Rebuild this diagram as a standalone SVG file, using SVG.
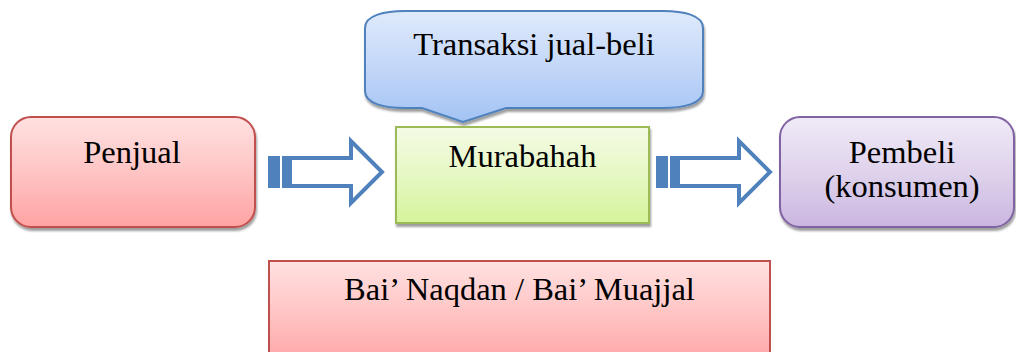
<svg xmlns="http://www.w3.org/2000/svg" width="1016" height="352" viewBox="0 0 1016 352">
  <defs>
    <linearGradient id="gRed" x1="0" y1="0" x2="0" y2="1">
      <stop offset="0" stop-color="#ffe1e1"/>
      <stop offset="0.5" stop-color="#ffc4c4"/>
      <stop offset="1" stop-color="#ffa3a3"/>
    </linearGradient>
    <linearGradient id="gGreen" x1="0" y1="0" x2="0" y2="1">
      <stop offset="0" stop-color="#f4fbe6"/>
      <stop offset="0.5" stop-color="#e6f8c4"/>
      <stop offset="1" stop-color="#d5f49a"/>
    </linearGradient>
    <linearGradient id="gPurple" x1="0" y1="0" x2="0" y2="1">
      <stop offset="0" stop-color="#f0eaf7"/>
      <stop offset="0.5" stop-color="#dfd3ec"/>
      <stop offset="1" stop-color="#cab6e0"/>
    </linearGradient>
    <linearGradient id="gBlue" x1="0" y1="0" x2="0" y2="1">
      <stop offset="0" stop-color="#dfeafb"/>
      <stop offset="0.5" stop-color="#c3d7f8"/>
      <stop offset="1" stop-color="#a3c3f4"/>
    </linearGradient>
    <filter id="shadow" x="-10%" y="-10%" width="120%" height="130%">
      <feDropShadow dx="1" dy="3" stdDeviation="1" flood-color="#000" flood-opacity="0.38"/>
    </filter>
    <style>
      .lbl { font-family: "Liberation Serif", "Times New Roman", serif; font-size: 32.5px; fill: #000; text-anchor: middle; }
      .arrow { fill: #ffffff; stroke: #4f81bd; stroke-width: 4; stroke-linejoin: miter; }
      .stripe { fill: #4f81bd; }
    </style>
  </defs>

  <g id="node-penjual">
    <rect x="11" y="117" width="244" height="110" rx="20" ry="20" fill="url(#gRed)" stroke="#c0504d" stroke-width="2" filter="url(#shadow)"/>
    <text class="lbl" x="132" y="163">Penjual</text>
  </g>

  <g id="node-transaksi">
    <path d="M365,28 C365,15 385,11 405,11 L663,11 C683,11 703,15 703,28 L703,91 C703,104 683,108 663,108 L506,108 L463,122 L422,108 L405,108 C385,108 365,104 365,91 Z" fill="url(#gBlue)" stroke="#4f81bd" stroke-width="2" filter="url(#shadow)"/>
    <text class="lbl" x="534" y="55">Transaksi jual-beli</text>
  </g>

  <g id="node-murabahah">
    <rect x="396" y="127" width="253" height="96" fill="url(#gGreen)" stroke="#9bbb59" stroke-width="2" filter="url(#shadow)"/>
    <text class="lbl" x="522.5" y="167">Murabahah</text>
  </g>

  <g id="node-pembeli">
    <rect x="780" y="117" width="234" height="110" rx="20" ry="20" fill="url(#gPurple)" stroke="#8064a2" stroke-width="2" filter="url(#shadow)"/>
    <text class="lbl" x="902" y="163">Pembeli</text>
    <text class="lbl" x="902" y="197">(konsumen)</text>
  </g>

  <g id="node-bai">
    <rect x="269" y="261" width="501" height="105" fill="url(#gRed)" stroke="#c0504d" stroke-width="2"/>
    <text class="lbl" x="519.5" y="300">Bai’ Naqdan / Bai’ Muajjal</text>
  </g>

  <g id="connectors">
    <g id="arrow-1">
      <rect class="stripe" x="268" y="156" width="12" height="32"/>
      <rect class="stripe" x="282" y="156" width="8" height="32"/>
      <path class="arrow" d="M290,158 L351,158 L351,141 L382,172 L351,203 L351,186 L290,186 Z"/>
    </g>
    <g id="arrow-2">
      <rect class="stripe" x="656" y="156" width="12" height="32"/>
      <rect class="stripe" x="670" y="156" width="8" height="32"/>
      <path class="arrow" d="M678,158 L739,158 L739,141 L770,172 L739,203 L739,186 L678,186 Z"/>
    </g>
  </g>
</svg>
